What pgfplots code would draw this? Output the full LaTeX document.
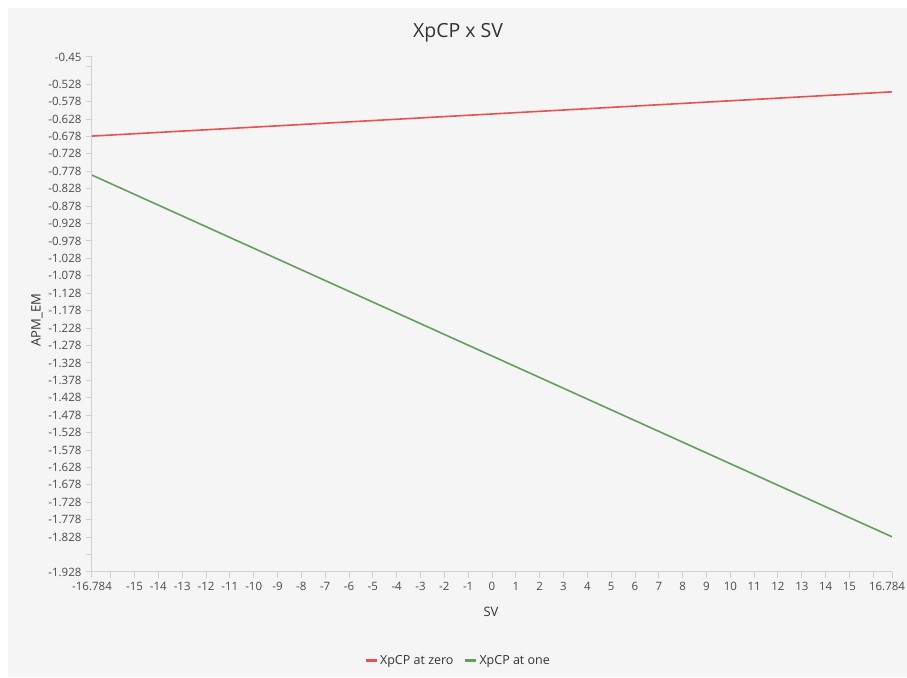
\documentclass[border=0pt]{standalone}
\usepackage{pgfplots}
\pgfplotsset{compat=1.18}
\usepackage{fontspec}
\setmainfont{Open Sans}
\definecolor{bggray}{HTML}{F5F5F5}
\definecolor{axgray}{HTML}{D0D0D0}
\definecolor{txtgray}{HTML}{4A4A4A}
\definecolor{redline}{HTML}{E8514F}
\definecolor{greenline}{HTML}{659C60}
\begin{document}
\begin{tikzpicture}[x=1pt,y=1pt]
\fill[white] (0,0) rectangle (907,677);
\fill[bggray] (8,0) rectangle (907,669);
\node[font=\fontsize{19.5}{22}\selectfont, text=black!80] at (458,644) {XpCP x SV};
\node[font=\fontsize{13}{15}\selectfont, text=black!80] at (491,65) {SV};
\node[font=\fontsize{13}{15}\selectfont, text=black!80, rotate=90] at (37,357) {APM\_EM};
\begin{axis}[
  at={(92pt,105pt)}, anchor=south west,
  scale only axis, width=800pt, height=515pt,
  xmin=-16.784, xmax=16.784, ymin=-1.928, ymax=-0.45,
  axis x line*=bottom, axis y line*=left,
  axis line style={axgray, line width=1pt},
  tick style={axgray, line width=1pt},
  tick align=outside, major tick length=6pt,
  xtick={-16.784,-16,-15,-14,-13,-12,-11,-10,-9,-8,-7,-6,-5,-4,-3,-2,-1,0,1,2,3,4,5,6,7,8,9,10,11,12,13,14,15,16},
  xticklabels={-16.784,,-15,-14,-13,-12,-11,-10,-9,-8,-7,-6,-5,-4,-3,-2,-1,0,1,2,3,4,5,6,7,8,9,10,11,12,13,14,15,},
  extra x ticks={16.784},
  extra x tick labels={16.784},
  extra x tick style={xticklabel style={xshift=-5pt}},
  ytick={-0.45,-0.478,-0.528,-0.578,-0.628,-0.678,-0.728,-0.778,-0.828,-0.878,-0.928,-0.978,-1.028,-1.078,-1.128,-1.178,-1.228,-1.278,-1.328,-1.378,-1.428,-1.478,-1.528,-1.578,-1.628,-1.678,-1.728,-1.778,-1.828,-1.878,-1.928},
  yticklabels={-0.45,,-0.528,-0.578,-0.628,-0.678,-0.728,-0.778,-0.828,-0.878,-0.928,-0.978,-1.028,-1.078,-1.128,-1.178,-1.228,-1.278,-1.328,-1.378,-1.428,-1.478,-1.528,-1.578,-1.628,-1.678,-1.728,-1.778,-1.828,,-1.928},
  ticklabel style={font=\fontsize{11.5}{13}\selectfont, text=txtgray},
  xticklabel style={yshift=-1pt},
  yticklabel style={xshift=-1pt},
  legend style={at={(axis description cs:0.4575,-0.1728)}, anchor=center, draw=none, fill=none,
    font=\fontsize{12.5}{14}\selectfont, text=black!80, legend columns=2,
    /tikz/every even column/.append style={column sep=8pt}},
  legend image code/.code={\draw[#1, line width=3pt] (0pt,0pt) -- (11pt,0pt);},
]
\addplot[redline, line width=1.6pt] coordinates {(-16.784,-0.677) (16.784,-0.550)};
\addlegendentry{XpCP at zero}
\addplot[greenline, line width=1.6pt] coordinates {(-16.784,-0.789) (16.784,-1.827)};
\addlegendentry{XpCP at one}
\end{axis}
\pgfresetboundingbox
\useasboundingbox (0,0) rectangle (907,677);
\end{tikzpicture}
\end{document}
